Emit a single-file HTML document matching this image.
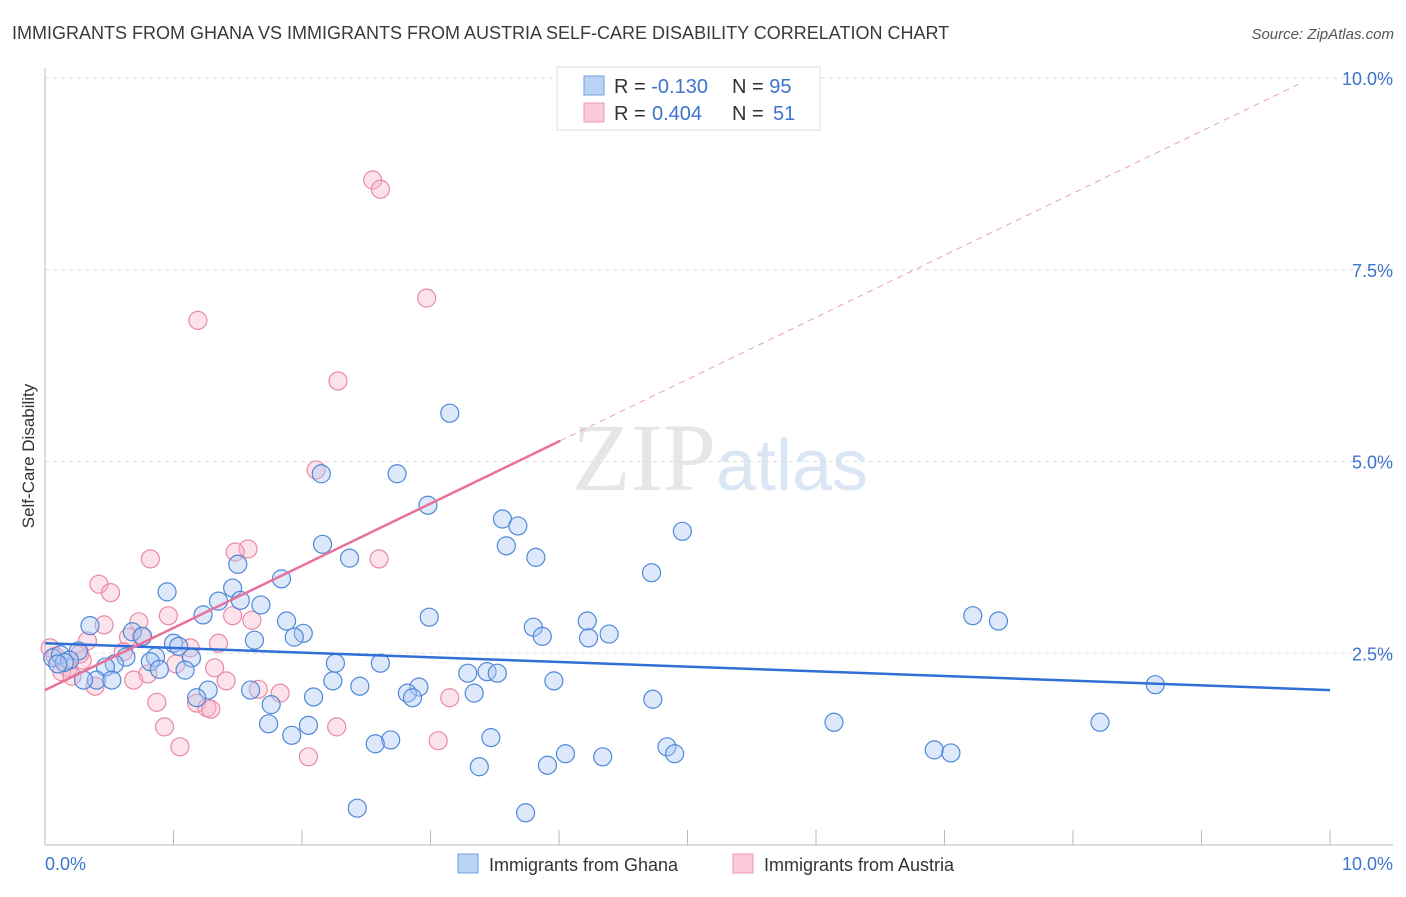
<!DOCTYPE html>
<html><head><meta charset="utf-8"><style>
body{margin:0;background:#fff;font-family:"Liberation Sans",sans-serif}
</style></head><body>
<svg id="chart" width="1406" height="892" xmlns="http://www.w3.org/2000/svg" font-family="Liberation Sans, sans-serif">
<text x="12" y="39" font-size="18" fill="#3a3a3a">IMMIGRANTS FROM GHANA VS IMMIGRANTS FROM AUSTRIA SELF-CARE DISABILITY CORRELATION CHART</text>
<text x="1394" y="39" font-size="15" fill="#555" font-style="italic" text-anchor="end">Source: ZipAtlas.com</text>
<text x="720" y="490" font-size="96" text-anchor="middle" fill="#e6e6e6" font-family="Liberation Serif, serif">ZIP<tspan fill="#dbe6f5" font-family="Liberation Sans, sans-serif" font-size="72">atlas</tspan></text>
<g id="grid"></g>
<g id="axes"></g>
<g id="points"></g>
<g id="trends"></g>
<text transform="translate(34,456) rotate(-90)" font-size="17" fill="#333" text-anchor="middle">Self-Care Disability</text>
<g>
<rect x="557" y="67" width="263" height="63" fill="#fff" stroke="#ddd"/>
<rect x="584" y="76" width="20" height="19" fill="#b9d3f5" stroke="#6f9fe0"/>
<rect x="584" y="103" width="20" height="19" fill="#fbcad8" stroke="#ec9ab3"/>
<text x="614" y="93" font-size="20" fill="#333">R = <tspan fill="#3c74cc">-0.130</tspan><tspan x="732">N = </tspan><tspan fill="#3c74cc">95</tspan></text>
<text x="614" y="120" font-size="20" fill="#333">R = <tspan fill="#3c74cc" x="652">0.404</tspan><tspan x="732">N = </tspan><tspan fill="#3c74cc" x="773">51</tspan></text>
</g>
<g>
<rect x="458" y="854" width="20" height="19" fill="#b9d3f5" stroke="#6f9fe0"/>
<text x="489" y="871" font-size="18" fill="#333">Immigrants from Ghana</text>
<rect x="733" y="854" width="20" height="19" fill="#fbcad8" stroke="#ec9ab3"/>
<text x="764" y="871" font-size="18" fill="#333">Immigrants from Austria</text>
</g>
</svg>
<script>
const ghanaX=[3.15,2.74,2.15,2.98,3.56,3.68,4.96,2.16,3.59,2.37,3.82,4.72,1.50,1.46,1.84,0.95,1.35,1.52,1.68,1.23,1.88,2.99,4.22,7.22,7.42,0.35,3.80,4.39,2.01,1.94,4.23,3.87,1.63,0.68,0.76,1.00,1.04,1.14,0.63,0.86,0.82,0.54,0.47,0.26,0.06,0.12,0.19,0.40,0.52,0.30,0.89,1.09,2.26,2.61,3.29,3.44,3.52,2.24,2.45,1.27,1.60,2.91,2.82,2.86,3.34,3.96,2.09,1.18,1.76,4.73,8.64,2.05,1.74,1.92,6.14,8.21,2.69,2.57,3.47,4.84,4.90,6.92,7.05,4.05,4.34,3.91,3.38,2.43,3.74,0.15,0.10];
const ghanaY=[5.63,4.84,4.84,4.43,4.25,4.16,4.09,3.92,3.90,3.74,3.75,3.55,3.66,3.35,3.47,3.30,3.18,3.19,3.13,3.00,2.92,2.97,2.92,2.99,2.92,2.86,2.84,2.75,2.76,2.71,2.70,2.72,2.67,2.78,2.72,2.63,2.59,2.44,2.45,2.45,2.39,2.36,2.32,2.53,2.44,2.48,2.41,2.15,2.15,2.15,2.29,2.28,2.37,2.37,2.24,2.26,2.24,2.14,2.07,2.02,2.02,2.06,1.98,1.92,1.98,2.14,1.93,1.92,1.83,1.90,2.09,1.56,1.58,1.43,1.60,1.60,1.37,1.32,1.40,1.28,1.19,1.24,1.20,1.19,1.15,1.04,1.02,0.48,0.42,2.38,2.36];
const austriaX=[2.55,2.61,2.97,1.19,2.28,2.11,1.58,1.48,0.82,2.60,0.42,0.51,0.96,1.46,1.61,0.73,0.46,0.65,0.75,1.35,0.33,1.13,0.61,0.04,0.08,0.29,1.02,1.32,0.18,0.13,0.21,0.80,0.69,1.41,0.39,1.66,1.83,0.87,1.18,1.26,1.29,3.15,0.93,2.27,1.05,3.06,2.05,0.27];
const austriaY=[8.67,8.55,7.13,6.84,6.05,4.89,3.86,3.82,3.73,3.73,3.40,3.29,2.99,2.99,2.93,2.91,2.87,2.71,2.72,2.63,2.66,2.57,2.52,2.57,2.46,2.41,2.36,2.31,2.31,2.26,2.20,2.23,2.15,2.14,2.07,2.03,1.98,1.86,1.85,1.79,1.77,1.92,1.54,1.54,1.28,1.36,1.15,2.49];
const yTicks=[2.5,5.0,7.5,10.0];
const yTickLabels=["2.5%","5.0%","7.5%","10.0%"];
const xTicks=[0,1,2,3,4,5,6,7,8,9,10];
const ghanaTrend=[[0,2.63],[10,2.02]];
const austriaTrend=[[0,2.02],[4.01,5.27]];
const austriaTrendExt=[[4.01,5.27],[9.77,9.93]];
const NS="http://www.w3.org/2000/svg";
const X=v=>45+v*128.5, Y=v=>845-v*76.7;
function mk(tag,attrs,parent){const e=document.createElementNS(NS,tag);for(const k in attrs)e.setAttribute(k,attrs[k]);document.getElementById(parent).appendChild(e);return e;}
yTicks.forEach((t,i)=>{
 const g=mk('line',{x1:45,x2:1393,y1:Y(t),y2:Y(t),stroke:'#ddd','stroke-dasharray':'4,4'},'grid');
 
 
 const l=mk('text',{x:1393,y:Y(t)+7,'font-size':18,fill:'#3c74cc','text-anchor':'end'},'grid');
 l.textContent=yTickLabels[i];
 
 
});
const ax=mk('line',{x1:45,x2:45,y1:68,y2:845,stroke:'#bbb'},'axes');


const bx=mk('line',{x1:45,x2:1393,y1:845,y2:845,stroke:'#bbb'},'axes');


xTicks.forEach(t=>{const tk=mk('line',{x1:X(t),x2:X(t),y1:830,y2:845,stroke:'#bbb'},'axes');
 
 });
const x0=mk('text',{x:45,y:870,'font-size':18,fill:'#3c74cc'},'axes');x0.textContent='0.0%';


const x1=mk('text',{x:1393,y:870,'font-size':18,fill:'#3c74cc','text-anchor':'end'},'axes');x1.textContent='10.0%';


function pts(xs,ys,fill,stroke,name){xs.forEach((v,i)=>{const c=mk('circle',{cx:X(v),cy:Y(ys[i]),r:9,fill:fill,'fill-opacity':0.4,stroke:stroke,'stroke-width':1.2},'points');
 
 });}
pts(austriaX,austriaY,'#f7b6c9','#e98aa8','austria-point');
pts(ghanaX,ghanaY,'#a9c8f2','#4f88d9','ghana-point');
function ln(p,stroke,w,dash,name){const l=mk('line',{x1:X(p[0][0]),y1:Y(p[0][1]),x2:X(p[1][0]),y2:Y(p[1][1]),stroke:stroke,'stroke-width':w},'trends');if(dash)l.setAttribute('stroke-dasharray',dash);
 
 }
ln(ghanaTrend,'#2f6fd6',2.5,null,'ghana-trend-line');
ln(austriaTrend,'#e8709a',2.5,null,'austria-trend-line');
ln(austriaTrendExt,'#e8a0b8',1,'6,5','austria-trend-extension');
</script>
</body></html>
